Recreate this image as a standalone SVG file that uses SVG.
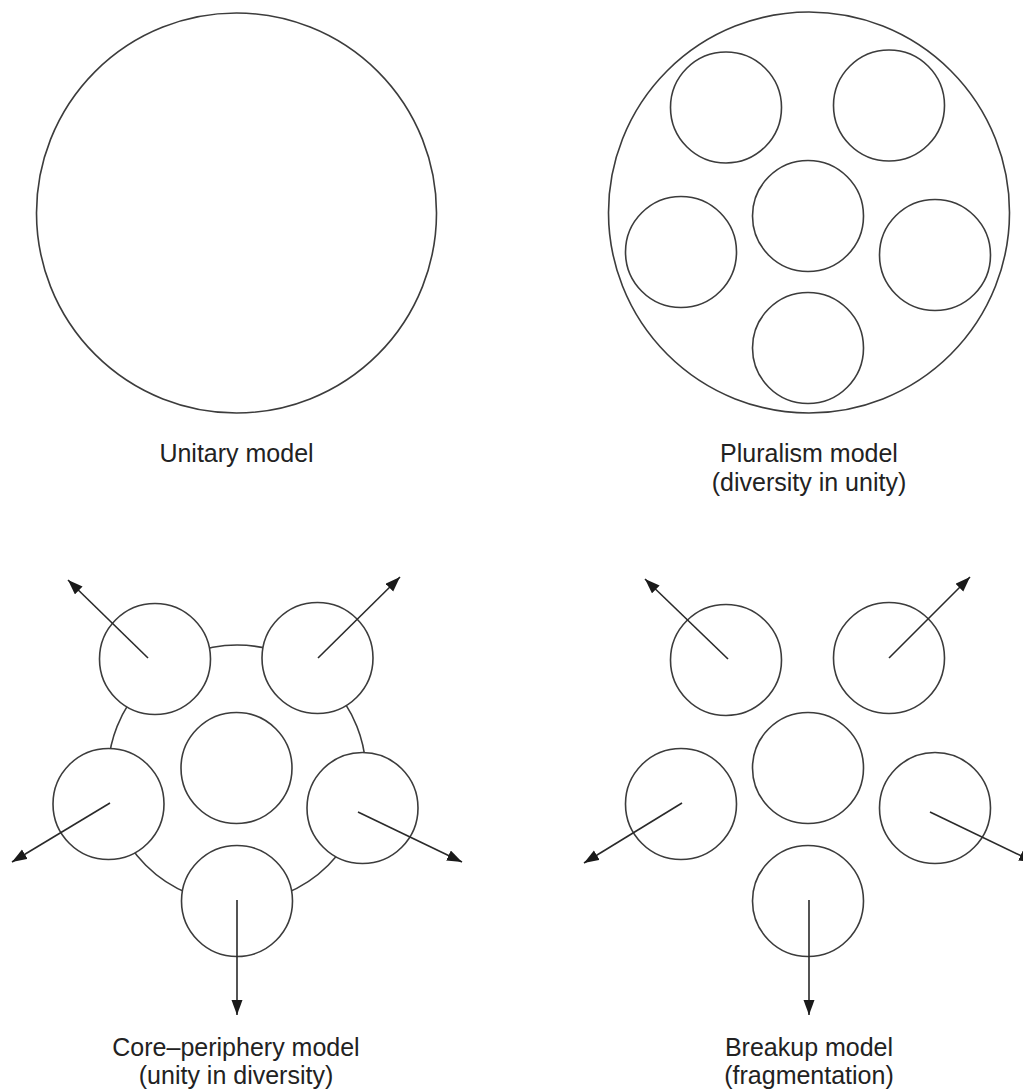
<svg xmlns="http://www.w3.org/2000/svg" width="1023" height="1092" viewBox="0 0 1023 1092">
<style>
.c{fill:#fff;stroke:#3c3c3c;stroke-width:1.6}
.ring{fill:none;stroke:#3c3c3c;stroke-width:1.6}
.a{stroke:#2a2a2a;stroke-width:1.6;fill:none}
.t{font-family:"Liberation Sans",Arial,sans-serif;font-size:25px;fill:#222;text-anchor:middle}
</style>
<defs>
<marker id="ah" markerUnits="userSpaceOnUse" markerWidth="16" markerHeight="12" refX="15" refY="5.5" orient="auto">
<path d="M0,0 L15,5.5 L0,11 z" fill="#1a1a1a"/>
</marker>
</defs>
<rect width="1023" height="1092" fill="#fff"/>

<g id="unitary">
<circle class="c" cx="236.5" cy="213" r="200"/>
<text class="t" x="236.5" y="462">Unitary model</text>
</g>

<g id="pluralism">
<circle class="c" cx="809" cy="212.5" r="200.5"/>
<circle class="c" cx="726" cy="107.5" r="55.5"/>
<circle class="c" cx="889" cy="105.5" r="55.5"/>
<circle class="c" cx="808" cy="216" r="55.5"/>
<circle class="c" cx="681" cy="252" r="55.5"/>
<circle class="c" cx="935" cy="255" r="55.5"/>
<circle class="c" cx="808" cy="348" r="55.5"/>
<text class="t" x="809" y="462">Pluralism model</text>
<text class="t" x="809" y="491">(diversity in unity)</text>
</g>

<g id="core-periphery">
<circle class="ring" cx="237" cy="774" r="129"/>
<circle class="c" cx="155" cy="659" r="55.5"/>
<circle class="c" cx="317.5" cy="658" r="55.5"/>
<circle class="c" cx="236.5" cy="768" r="55.5"/>
<circle class="c" cx="108.5" cy="804" r="55.5"/>
<circle class="c" cx="362.5" cy="808" r="55.5"/>
<circle class="c" cx="237" cy="901" r="55.5"/>
<text class="t" x="236" y="1056">Core–periphery model</text>
<text class="t" x="236" y="1084">(unity in diversity)</text>
</g>

<g id="breakup">
<circle class="c" cx="726" cy="660" r="55.5"/>
<circle class="c" cx="889" cy="658" r="55.5"/>
<circle class="c" cx="808" cy="768" r="55.5"/>
<circle class="c" cx="681" cy="804" r="55.5"/>
<circle class="c" cx="935" cy="808" r="55.5"/>
<circle class="c" cx="808" cy="901" r="55.5"/>
<text class="t" x="809" y="1056">Breakup model</text>
<text class="t" x="809" y="1084">(fragmentation)</text>
</g>

<g id="connectors">
<line class="a" x1="148" y1="658" x2="68" y2="580" marker-end="url(#ah)"/>
<line class="a" x1="318" y1="658" x2="400" y2="577" marker-end="url(#ah)"/>
<line class="a" x1="110" y1="803" x2="12" y2="862" marker-end="url(#ah)"/>
<line class="a" x1="358" y1="812" x2="462" y2="862" marker-end="url(#ah)"/>
<line class="a" x1="237" y1="900" x2="237" y2="1015" marker-end="url(#ah)"/>
<line class="a" x1="728" y1="659" x2="645" y2="579" marker-end="url(#ah)"/>
<line class="a" x1="889" y1="658" x2="970" y2="577" marker-end="url(#ah)"/>
<line class="a" x1="682" y1="803" x2="584" y2="863" marker-end="url(#ah)"/>
<line class="a" x1="930" y1="812" x2="1034" y2="862" marker-end="url(#ah)"/>
<line class="a" x1="809" y1="900" x2="809" y2="1015" marker-end="url(#ah)"/>
</g>
</svg>
